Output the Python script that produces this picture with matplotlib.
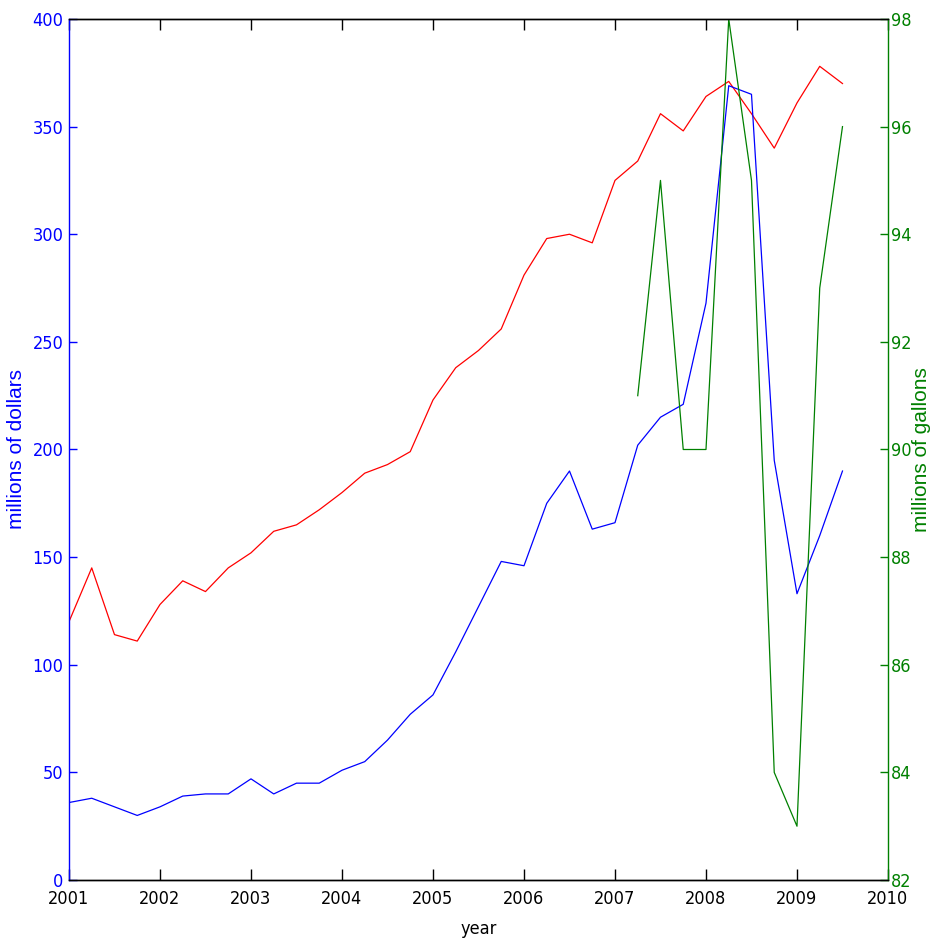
import matplotlib
matplotlib.use('Agg')
import matplotlib.pyplot as plt
import numpy as np

# quarterly data, 2001 Q1 .. 2009 Q3
years = np.arange(2001, 2009.51, 0.25)

red_dollars = [120, 145, 114, 111, 128, 139, 134, 145, 152, 162, 165, 172,
               180, 189, 193, 199, 223, 238, 246, 256, 281, 298, 300, 296,
               325, 334, 356, 348, 364, 371, 356, 340, 361, 378, 370]

blue_dollars = [36, 38, 34, 30, 34, 39, 40, 40, 47, 40, 45, 45,
                51, 55, 65, 77, 86, 106, 127, 148, 146, 175, 190, 163,
                166, 202, 215, 221, 268, 369, 365, 195, 133, 160, 190]

green_years = np.arange(2007.25, 2009.51, 0.25)
green_gallons = [91, 95, 90, 90, 98, 95, 84, 83, 93, 96]

fig = plt.figure(figsize=(9.31, 9.39), dpi=100)
ax = fig.add_axes([0.0741, 0.0628, 0.8797, 0.917])
ax2 = ax.twinx()

ax.plot(years, red_dollars, color='#ff0000', lw=0.9)
ax.plot(years, blue_dollars, color='#0000ff', lw=0.9)
ax2.plot(green_years, green_gallons, color='#008000', lw=0.9)

ax.set_xlim(2001, 2010)
ax.set_ylim(0, 400)
ax2.set_ylim(82, 98)
ax.set_xticks(range(2001, 2011))
ax.set_yticks(range(0, 401, 50))
ax2.set_yticks(range(82, 99, 2))

ax.spines['left'].set_color('#0000ff')
ax.spines['right'].set_visible(False)
ax2.spines['left'].set_visible(False)
ax2.spines['right'].set_color('#008000')
for a in (ax, ax2):
    for s in a.spines.values():
        s.set_linewidth(1.0)

ax.tick_params(axis='x', direction='in', top=True, length=7.7, width=1.0,
               pad=7, labelsize=13, colors='black')
ax.tick_params(axis='y', direction='in', length=5.8, width=1.0, pad=4,
               labelsize=13, colors='#0000ff')
ax2.tick_params(axis='y', direction='in', length=5.8, width=1.0, pad=2,
                labelsize=13, colors='#008000')
for lab in ax.get_xticklabels() + ax.get_yticklabels() + ax2.get_yticklabels():
    lab.set_family('DejaVu Sans')
    lab.set_stretch('condensed')

ax.set_xlabel('year', family='DejaVu Sans', stretch='condensed', fontsize=13)
ax.xaxis.set_label_coords(0.5, -0.046)
ax.set_ylabel('millions of dollars', family='Liberation Sans', fontsize=15,
              color='#0000ff')
ax.yaxis.set_label_coords(-0.053, 0.5)
ax2.set_ylabel('millions of gallons', family='Liberation Sans', fontsize=15,
               color='#008000')
ax2.yaxis.set_label_coords(1.029, 0.5)

fig.savefig('out.png', dpi=100)
